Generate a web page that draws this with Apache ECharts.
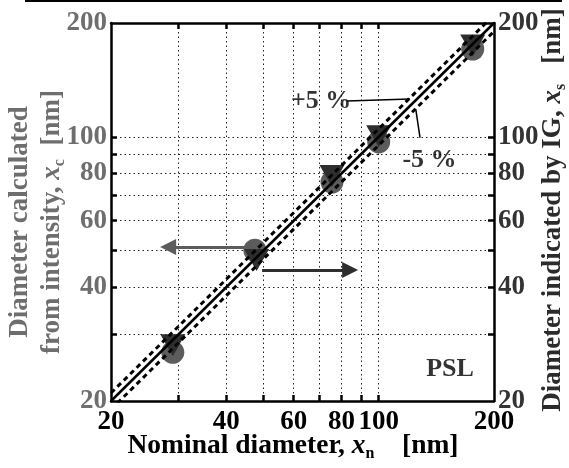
<!DOCTYPE html>
<html>
<head>
<meta charset="utf-8">
<script src="https://cdn.jsdelivr.net/npm/echarts@6/dist/echarts.min.js"></script>
<style>
  html, body { margin: 0; padding: 0; background: #fff; }
  #chart { width: 569px; height: 468px; }
</style>
</head>
<body>
<div id="chart"></div>
<script>
// circles: diameter calculated from intensity (left axis)
var nominalC = [29, 47.5, 75.5, 100, 176];
var calcC = [26.9, 50.1, 75.9, 96.9, 170.7];
// triangles: diameter indicated by IG (right axis)
var nominalS = [29, 48, 75.5, 100, 176];
var indicS = [28.1, 47.2, 78.8, 100.4, 174.5];

var tickLabels = [20, 40, 60, 80, 100, 200];
var gridTicks = [30, 40, 50, 60, 70, 80, 90, 100];

// 1:1 line and +/-5 % lines
var lineX = [20, 200];
var lineY = [20, 200];
var plus5Y = [21, 210];
var minus5Y = [19, 190];

// leader lines for the +/-5 % notes
var leadPlusX = [82.6, 120.7];
var leadPlusY = [124.3, 125.8];
var leadMinusX = [125, 128.2];
var leadMinusY = [118, 99.5];

// arrows pointing to the axis each series belongs to
var arrowLeftX = [46.1, 28.2];
var arrowLeftY = [51.1, 51.1];
var arrowRightX = [49.6, 84.2];
var arrowRightY = [44.4, 44.4];

// notes inside the plot
var noteText = ['+5 %', '-5 %', 'PSL'];
var noteX = [70.7, 135.7, 153.5];
var noteY = [124, 86.8, 24.3];

var FONT = 'Liberation Serif';

function pair(xs, ys) {
  return xs.map(function (x, i) { return [x, ys[i]]; });
}

function logAxis(pos, labelColor, showLabel, showSplit) {
  return {
    type: 'log',
    logBase: 10,
    min: 20,
    max: 200,
    position: pos,
    axisLine: { show: true, onZero: false, lineStyle: { color: '#000', width: 2.5 } },
    axisTick: {
      show: true, inside: true, length: 6, customValues: gridTicks,
      lineStyle: { color: '#000', width: 2.5 }
    },
    axisLabel: {
      show: showLabel, customValues: tickLabels, formatter: '{value}',
      color: labelColor, fontFamily: FONT, fontWeight: 'bold', fontSize: 27,
      margin: (pos === 'bottom') ? 8 : 4
    },
    splitLine: { show: showSplit, lineStyle: { color: '#222', width: 1, type: [1.5, 3] } },
    minorTick: { show: false },
    minorSplitLine: { show: false }
  };
}

var sub = { fontFamily: FONT, fontWeight: 'bold', fontSize: 16, lineHeight: 16, verticalAlign: 'bottom' };
function richFor(color, size) {
  return {
    t: { fontFamily: FONT, fontWeight: 'bold', fontSize: size, lineHeight: 32, fill: color },
    i: { fontFamily: FONT, fontWeight: 'bold', fontStyle: 'italic', fontSize: size, lineHeight: 32, fill: color },
    s: Object.assign({ fill: color }, sub)
  };
}

var chart = echarts.init(document.getElementById('chart'));
chart.setOption({
  animation: false,
  backgroundColor: '#fff',
  grid: { left: 111, right: 75, top: 23, bottom: 67, containLabel: false, outerBoundsMode: 'none' },
  xAxis: [
    logAxis('bottom', '#000', true, true),
    logAxis('top', '#000', false, false)
  ],
  yAxis: [
    logAxis('left', '#6e6e6e', true, true),
    logAxis('right', '#333', true, false)
  ],
  series: [
    {
      type: 'scatter', xAxisIndex: 0, yAxisIndex: 0,
      symbol: 'circle', symbolSize: 23,
      itemStyle: { color: '#5c5c5c', opacity: 1 },
      data: pair(nominalC, calcC)
    },
    {
      type: 'scatter', xAxisIndex: 0, yAxisIndex: 1,
      symbol: 'triangle', symbolRotate: 180, symbolSize: [25, 22],
      itemStyle: { color: '#2e2e2e', opacity: 1 },
      data: pair(nominalS, indicS)
    },
    {
      type: 'line', symbol: 'none', clip: true,
      lineStyle: { color: '#000', width: 2.5 },
      data: pair(lineX, lineY)
    },
    {
      type: 'line', symbol: 'none', clip: true,
      lineStyle: { color: '#000', width: 3, type: [5, 4] },
      data: pair(lineX, plus5Y)
    },
    {
      type: 'line', symbol: 'none', clip: true,
      lineStyle: { color: '#000', width: 3, type: [5, 4] },
      data: pair(lineX, minus5Y)
    },
    {
      type: 'line', symbol: 'none',
      lineStyle: { color: '#000', width: 1.5 },
      data: pair(leadPlusX, leadPlusY)
    },
    {
      type: 'line', symbol: 'none',
      lineStyle: { color: '#000', width: 1.5 },
      data: pair(leadMinusX, leadMinusY)
    },
    {
      type: 'lines', coordinateSystem: 'cartesian2d',
      symbol: ['none', 'triangle'], symbolSize: 16,
      lineStyle: { color: '#5c5c5c', width: 3, opacity: 1 },
      itemStyle: { color: '#5c5c5c' },
      data: [{ coords: pair(arrowLeftX, arrowLeftY) }]
    },
    {
      type: 'lines', coordinateSystem: 'cartesian2d',
      symbol: ['none', 'triangle'], symbolSize: 16,
      lineStyle: { color: '#2e2e2e', width: 3, opacity: 1 },
      itemStyle: { color: '#2e2e2e' },
      data: [{ coords: pair(arrowRightX, arrowRightY) }]
    },
    {
      type: 'scatter', symbolSize: 1,
      itemStyle: { color: 'rgba(0,0,0,0)' },
      label: {
        show: true, position: 'inside',
        formatter: function (p) { return noteText[p.dataIndex]; },
        color: '#000', fontFamily: FONT, fontWeight: 'bold', fontSize: 26
      },
      data: pair(noteX, noteY)
    }
  ],
  graphic: [
    // cut-off rule from the figure above
    { type: 'line', shape: { x1: 25, y1: 1, x2: 562, y2: 1 }, style: { stroke: '#000', lineWidth: 2 } },
    {
      type: 'text', x: 293, y: 446,
      style: {
        text: '{t|Nominal diameter, }{i|x}{s|n}{t|    [nm]}',
        rich: richFor('#000', 27.5), align: 'center', verticalAlign: 'middle', fill: '#000'
      }
    },
    {
      type: 'text', x: 36, y: 222, rotation: Math.PI / 2,
      style: {
        text: '{t|Diameter calculated}\n{t|from intensity, }{i|x}{s|c}{t|  [nm]}',
        rich: richFor('#6e6e6e', 27), align: 'center', verticalAlign: 'middle', fill: '#6e6e6e'
      }
    },
    {
      type: 'text', x: 553, y: 210, rotation: Math.PI / 2,
      style: {
        text: '{t|Diameter indicated by IG, }{i|x}{s|s}{t|   [nm]}',
        rich: richFor('#2b2b2b', 27), align: 'center', verticalAlign: 'middle', fill: '#2b2b2b'
      }
    }
  ]
});
</script>
</body>
</html>
